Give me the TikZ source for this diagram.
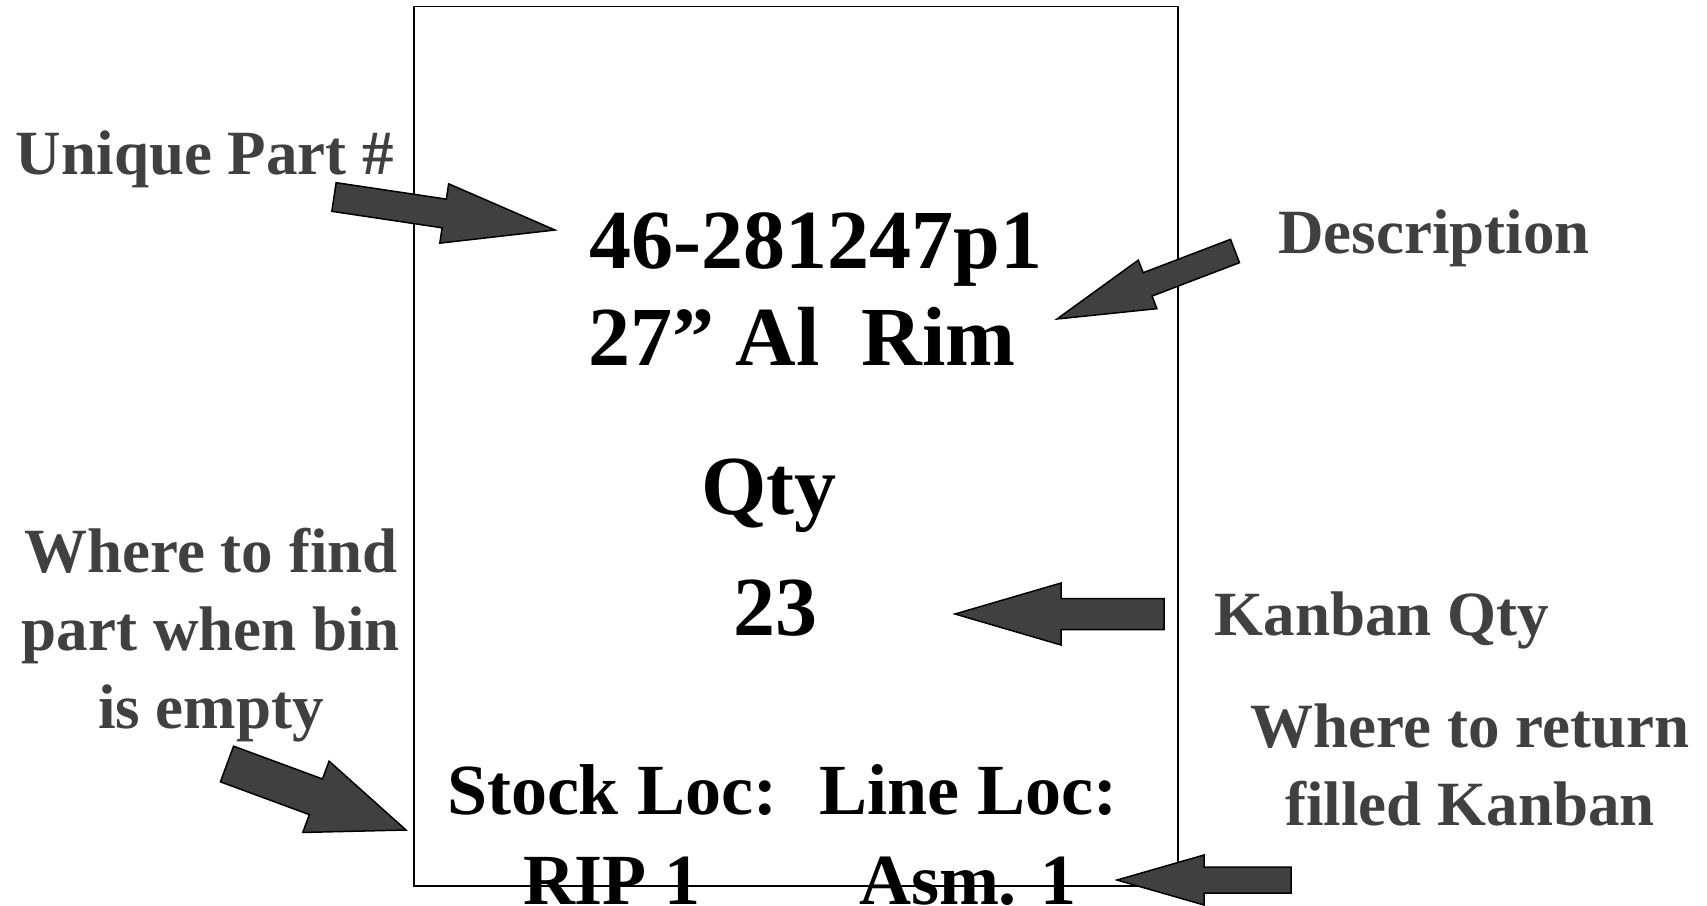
\documentclass[tikz,border=0pt]{standalone}
\usepackage{fontspec}
\setmainfont{Liberation Serif}
\usetikzlibrary{calc}
\definecolor{labelgray}{HTML}{404040}

\begin{document}
\begin{tikzpicture}[x=1pt,y=-1pt,line join=miter,
  card/.style={draw=black,line width=1.3pt},
  big/.style={font=\fontsize{84}{100}\selectfont\bfseries,anchor=base,inner sep=0pt},
  loc/.style={font=\fontsize{72}{90}\selectfont\bfseries,align=center,anchor=base,inner sep=0pt},
  lbl/.style={text=labelgray,font=\fontsize{63}{78}\selectfont\bfseries,align=center,anchor=base,inner sep=0pt},
  karrow/.style={fill=labelgray,draw=black,line width=1.5pt}]
% block arrow: #1 tail, #2 tip, #3 half shaft, #4 half head, #5 head length
\newcommand{\blockarrow}[5]{%
  \coordinate (hb) at ($(#2)!#5!(#1)$);
  \draw[karrow] ($(#1)!#3!90:(#2)$) -- ($(hb)!#3!90:(#2)$) -- ($(hb)!#4!90:(#2)$)
    -- (#2) -- ($(hb)!#4!-90:(#2)$) -- ($(hb)!#3!-90:(#2)$) -- ($(#1)!#3!-90:(#2)$) -- cycle;
}
\useasboundingbox (0,0) rectangle (1707,905);
% --- the kanban card ---
\draw[card] (414,6.5) rectangle (1178,886);
\node[big] (partno) at (816,268) {46-281247p1};
\node[big] (descr) at (802,365) {27” Al~~Rim};
\node[big] (qtyhead) at (769,514) {Qty};
\node[big] (qty) at (775,635) {23};
\node[loc] (stock) at (612,904) {Stock Loc:\\RIP 1};   % base = last line
\node[loc] (line) at (968,904) {Line Loc:\\Asm. 1};
% --- callouts ---
\node[lbl] (lpart) at (205,174) {Unique Part \#};
\node[lbl] (ldescr) at (1434,253) {Description};
\node[lbl] (lkanban) at (1382,635) {Kanban Qty};
\node[lbl] (lfind) at (211,728) {Where to find\\part when bin\\is empty};
\node[lbl] (lreturn) at (1470,825) {Where to return\\filled Kanban};
% arrow ends
\coordinate (part-tail) at (334,197);   \coordinate (part-tip) at (555,230);
\coordinate (descr-tail) at (1235,251); \coordinate (descr-tip) at (1057,319);
\coordinate (qty-tail) at (1164,614);   \coordinate (qty-tip) at (955,614);
\coordinate (find-tail) at (227,764);   \coordinate (find-tip) at (406,830);
\coordinate (ret-tail) at (1291,880);   \coordinate (ret-tip) at (1117,880);
\blockarrow{part-tail}{part-tip}{14.5pt}{30pt}{112pt}
\blockarrow{descr-tail}{descr-tip}{12.5pt}{26pt}{97pt}
\blockarrow{qty-tail}{qty-tip}{15.5pt}{31pt}{106pt}
\blockarrow{find-tail}{find-tip}{19pt}{38pt}{96pt}
\blockarrow{ret-tail}{ret-tip}{13pt}{25pt}{87pt}
\end{tikzpicture}
\end{document}
